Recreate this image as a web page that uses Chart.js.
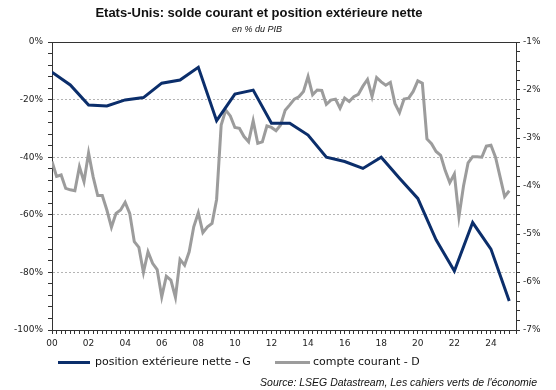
<!DOCTYPE html>
<html>
<head>
<meta charset="utf-8">
<script src="https://cdn.jsdelivr.net/npm/chart.js@4.4.1/dist/chart.umd.min.js"></script>
<style>
  body { margin: 0; background: #fff; }
  #wrap { position: relative; width: 556px; height: 390px; }
  #wrap canvas { position: absolute; left: 0; top: 0; }
  .txt { position: absolute; white-space: nowrap; color: #111; }
  #title { left: 0; width: 518px; top: 5px; text-align: center; font: bold 13px "Liberation Sans", Arial, sans-serif; line-height: 15px; }
  #subtitle { left: 0; width: 514px; top: 24px; text-align: center; font: italic 9px "Liberation Sans", Arial, sans-serif; line-height: 11px; }
  .leg { position: absolute; height: 3px; }
  .legtxt { font: 11px "DejaVu Sans", Verdana, sans-serif; line-height: 13px; top: 355px; }
  #source { right: 19px; top: 376px; font: italic 10.5px "Liberation Sans", Arial, sans-serif; line-height: 12px; }
</style>
</head>
<body>
<div id="wrap">
  <canvas id="myChart" width="556" height="390"></canvas>
  <div class="txt" id="title">Etats-Unis: solde courant et position extérieure nette</div>
  <div class="txt" id="subtitle">en % du PIB</div>
  <div class="leg" style="left:58px; top:361px; width:32px; background:#0b2e6b;"></div>
  <div class="txt legtxt" style="left:95px;">position extérieure nette - G</div>
  <div class="leg" style="left:275px; top:361px; width:35px; background:#9c9c9c;"></div>
  <div class="txt legtxt" style="left:313px;">compte courant - D</div>
  <div class="txt" id="source">Source: LSEG Datastream, Les cahiers verts de l'économie</div>
</div>
<script>
// position extérieure nette, annuel, % du PIB (axe gauche)
const years = [2000, 2001, 2002, 2003, 2004, 2005, 2006, 2007, 2008, 2009, 2010, 2011, 2012,
               2013, 2014, 2015, 2016, 2017, 2018, 2019, 2020, 2021, 2022, 2023, 2024, 2025];
const netPosition = [-10.5, -14.9, -21.9, -22.2, -20.1, -19.3, -14.3, -13.2, -8.8, -27.3, -18.1, -16.7, -28.2,
                     -28.2, -32.3, -40.0, -41.5, -43.9, -40.0, -47.3, -54.3, -68.7, -79.5, -62.7, -71.9, -89.9];

// compte courant, trimestriel depuis 2000T1, % du PIB (axe droit)
const quarterStart = 2000;
const currentAccount = [
  -3.49, -3.80, -3.77, -4.05, -4.08, -4.10, -3.60, -3.91, -3.31, -3.81,
  -4.20, -4.20, -4.50, -4.86, -4.57, -4.50, -4.34, -4.57, -5.16, -5.28,
  -5.80, -5.37, -5.61, -5.74, -6.31, -5.88, -5.96, -6.32, -5.53, -5.65,
  -5.37, -4.85, -4.56, -4.97, -4.85, -4.78, -4.28, -2.73, -2.42, -2.54,
  -2.78, -2.80, -2.97, -3.08, -2.64, -3.11, -3.08, -2.75, -2.78, -2.85,
  -2.73, -2.42, -2.31, -2.19, -2.14, -2.03, -1.72, -2.10, -2.00, -2.01,
  -2.30, -2.21, -2.19, -2.38, -2.17, -2.24, -2.14, -2.09, -1.92, -1.78,
  -2.14, -1.74, -1.83, -1.90, -1.84, -2.28, -2.47, -2.19, -2.17, -2.03,
  -1.81, -1.86, -3.02, -3.12, -3.28, -3.36, -3.68, -3.93, -3.75, -4.64,
  -4.00, -3.52, -3.39, -3.39, -3.40, -3.17, -3.15, -3.40, -3.81, -4.22,
  -4.10
];

const xMin = 2000, xMax = 2025.37;
const leftMin = -100, leftMax = 0;
const rightMin = -7, rightMax = -1;

const isWhole = v => Math.abs(v - Math.round(v)) < 1e-6;
const tickFont = { family: '"DejaVu Sans", Verdana, sans-serif', size: 9 };
const axisColor = '#333';

// trait du haut du cadre
const topBorder = {
    id: 'topBorder',
    afterDraw(chart) {
        const { ctx, chartArea: a } = chart;
        ctx.save();
        ctx.strokeStyle = axisColor;
        ctx.lineWidth = 1;
        ctx.beginPath();
        ctx.moveTo(a.left, a.top + 0.5);
        ctx.lineTo(a.right, a.top + 0.5);
        ctx.stroke();
        ctx.restore();
    }
};

const ctx = document.getElementById('myChart').getContext('2d');

new Chart(ctx, {
    type: 'line',
    data: {
        datasets: [
            {
                label: 'position extérieure nette - G',
                data: netPosition.map((v, i) => ({ x: years[i], y: v })),
                borderColor: '#0b2e6b',
                backgroundColor: '#0b2e6b',
                borderWidth: 3,
                pointRadius: 0,
                tension: 0,
                yAxisID: 'y'
            },
            {
                label: 'compte courant - D',
                data: currentAccount.map((v, i) => ({ x: quarterStart + i / 4, y: v })),
                borderColor: '#9c9c9c',
                backgroundColor: '#9c9c9c',
                borderWidth: 3,
                pointRadius: 0,
                tension: 0,
                yAxisID: 'y1'
            }
        ]
    },
    options: {
        responsive: false,
        animation: false,
        devicePixelRatio: 1,
        layout: { padding: { top: 42, left: 0, right: 0, bottom: 0 } },
        plugins: {
            legend: { display: false },
            tooltip: { enabled: false }
        },
        scales: {
            x: {
                type: 'linear',
                min: xMin,
                max: xMax,
                afterFit: s => { s.height = 60; },
                ticks: {
                    stepSize: 0.25,
                    autoSkip: false,
                    maxRotation: 0,
                    padding: 4,
                    color: '#222',
                    font: tickFont,
                    callback: v => (isWhole(v) && Math.round(v) % 2 === 0)
                        ? String(Math.round(v) % 100).padStart(2, '0') : ''
                },
                grid: { drawOnChartArea: false, tickLength: 4, tickColor: axisColor },
                border: { color: axisColor }
            },
            y: {
                position: 'left',
                min: leftMin,
                max: leftMax,
                afterFit: s => { s.width = 52; },
                ticks: {
                    stepSize: 4,
                    autoSkip: false,
                    padding: 5,
                    color: '#222',
                    font: tickFont,
                    callback: v => (v % 20 === 0) ? v + '%' : ''
                },
                grid: {
                    color: c => (c.tick && c.tick.value % 20 === 0 && c.tick.value !== leftMin && c.tick.value !== leftMax)
                        ? '#b4b4b4' : 'rgba(0,0,0,0)',
                    tickColor: axisColor,
                    tickLength: 4
                },
                border: { color: axisColor, dash: [2, 2] }
            },
            y1: {
                position: 'right',
                min: rightMin,
                max: rightMax,
                afterFit: s => { s.width = 40; },
                ticks: {
                    stepSize: 0.2,
                    autoSkip: false,
                    padding: 3,
                    color: '#222',
                    font: tickFont,
                    callback: v => isWhole(v) ? Math.round(v) + '%' : ''
                },
                grid: { drawOnChartArea: false, tickLength: 4, tickColor: axisColor },
                border: { color: axisColor }
            }
        }
    },
    plugins: [topBorder]
});
</script>
</body>
</html>
